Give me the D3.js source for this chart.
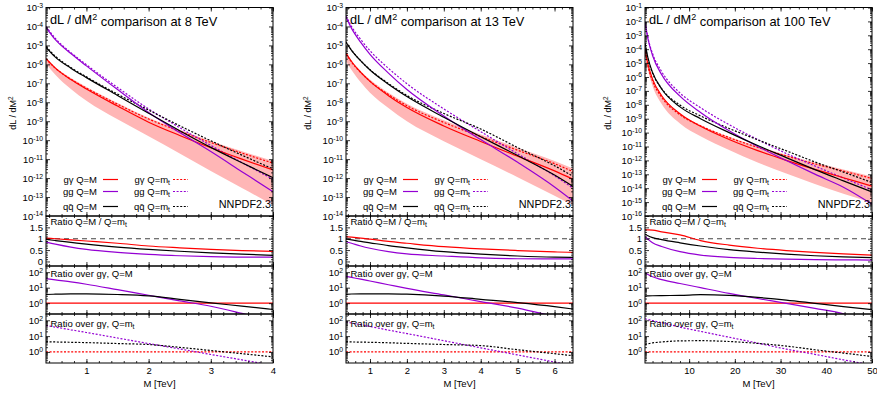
<!DOCTYPE html>
<html>
<head>
<meta charset="utf-8">
<script src="https://cdn.jsdelivr.net/npm/d3@7"></script>
<style>
  body { margin: 0; background: #fff; }
  svg { display: block; font-family: 'Liberation Sans', Arial, sans-serif; }
</style>
</head>
<body>
<svg id="chart" width="877" height="393"></svg>
<script>
// values; main panels are log10(dL/dM^2), "over" panels are log10(ratio)

// ---- 8 TeV ----
const mass8 = [0.35, 0.5, 0.75, 1, 1.5, 2, 2.5, 3, 3.5, 4]
const gaM8 = [-5.7, -6.2, -6.8, -7.3, -8.2, -9.05, -9.75, -10.4, -11.0, -11.57]
const gaMt8 = [-5.71, -6.2, -6.78, -7.25, -8.1, -8.88, -9.53, -10.12, -10.68, -11.21]
const ggM8 = [-4.05, -4.7, -5.43, -6.08, -7.33, -8.54, -9.6, -10.6, -11.66, -12.72]
const ggMt8 = [-4.0, -4.63, -5.38, -6.02, -7.22, -8.35, -9.34, -10.28, -11.18, -12.06]
const qqM8 = [-5.1, -5.62, -6.2, -6.7, -7.64, -8.58, -9.5, -10.38, -11.19, -11.98]
const qqMt8 = [-5.05, -5.57, -6.17, -6.66, -7.57, -8.41, -9.24, -10.03, -10.79, -11.52]
const bandHi8 = [-5.65, -6.14, -6.72, -7.19, -8.04, -8.82, -9.45, -10.04, -10.58, -11.1]
const bandLo8 = [-5.95, -6.55, -7.3, -7.92, -8.9, -9.79, -10.7, -11.62, -12.52, -13.42]
const rqGa8 = [1.03, 1.0, 0.95, 0.9, 0.8, 0.68, 0.6, 0.53, 0.48, 0.44]
const rqGg8 = [0.85, 0.76, 0.63, 0.53, 0.4, 0.31, 0.25, 0.21, 0.19, 0.19]
const rqQq8 = [0.97, 0.92, 0.84, 0.76, 0.63, 0.53, 0.45, 0.38, 0.32, 0.27]
const ovMgg8 = [1.59, 1.5, 1.37, 1.22, 0.87, 0.51, 0.15, -0.2, -0.66, -1.15]
const ovMqq8 = [0.56, 0.58, 0.6, 0.6, 0.56, 0.47, 0.25, 0.02, -0.19, -0.41]
const ovMtgg8 = [1.67, 1.57, 1.4, 1.23, 0.88, 0.53, 0.19, -0.16, -0.5, -0.85]
const ovMtqq8 = [0.64, 0.63, 0.61, 0.59, 0.53, 0.47, 0.29, 0.09, -0.11, -0.31]

// ---- 13 TeV ----
const mass13 = [0.35, 0.5, 0.75, 1, 1.5, 2, 3, 4, 5, 6, 6.5]
const gaM13 = [-5.4, -5.85, -6.42, -6.9, -7.65, -8.28, -9.25, -10.07, -10.85, -11.62, -12.06]
const gaMt13 = [-5.44, -5.88, -6.43, -6.89, -7.59, -8.18, -9.06, -9.81, -10.53, -11.24, -11.66]
const ggM13 = [-3.5, -4.1, -4.84, -5.47, -6.46, -7.33, -8.72, -9.97, -11.17, -12.47, -13.21]
const ggMt13 = [-3.45, -4.0, -4.69, -5.28, -6.21, -7.02, -8.35, -9.55, -10.72, -11.88, -12.53]
const qqM13 = [-4.83, -5.26, -5.82, -6.3, -7.05, -7.7, -8.79, -9.82, -10.81, -11.84, -12.44]
const qqMt13 = [-4.81, -5.25, -5.81, -6.28, -7.01, -7.64, -8.59, -9.41, -10.39, -11.35, -11.9]
const bandHi13 = [-5.35, -5.8, -6.35, -6.8, -7.5, -8.08, -8.95, -9.7, -10.4, -11.1, -11.5]
const bandLo13 = [-5.84, -6.3, -6.95, -7.5, -8.3, -9.0, -10.05, -11.0, -11.95, -12.93, -13.42]
const rqGa13 = [1.09, 1.07, 1.03, 0.98, 0.88, 0.8, 0.65, 0.55, 0.48, 0.42, 0.4]
const rqGg13 = [0.87, 0.8, 0.68, 0.58, 0.43, 0.33, 0.24, 0.16, 0.12, 0.11, 0.11]
const rqQq13 = [0.99, 0.95, 0.88, 0.82, 0.7, 0.6, 0.43, 0.32, 0.24, 0.19, 0.18]
const ovMgg13 = [1.73, 1.66, 1.55, 1.43, 1.19, 0.95, 0.53, 0.1, -0.32, -0.85, -1.1]
const ovMqq13 = [0.57, 0.59, 0.6, 0.6, 0.6, 0.58, 0.46, 0.25, 0.04, -0.22, -0.38]
const ovMtgg13 = [1.9, 1.83, 1.72, 1.61, 1.38, 1.16, 0.71, 0.26, -0.19, -0.64, -0.87]
const ovMtqq13 = [0.63, 0.63, 0.62, 0.61, 0.58, 0.54, 0.47, 0.4, 0.14, -0.11, -0.24]

// ---- 100 TeV ----
const mass100 = [0.35, 1, 2, 4, 8, 12.5, 18.75, 25, 31.25, 37.5, 43.75, 50]
const gaM100 = [-4.0, -5.1, -6.15, -7.35, -8.65, -9.55, -10.5, -11.3, -12.0, -12.65, -13.25, -13.85]
const gaMt100 = [-4.14, -5.24, -6.29, -7.46, -8.72, -9.51, -10.36, -11.06, -11.68, -12.25, -12.77, -13.3]
const ggM100 = [-2.05, -3.25, -4.45, -5.83, -7.38, -8.55, -9.87, -11.0, -12.01, -12.99, -13.93, -15.15]
const ggMt100 = [-2.04, -3.19, -4.31, -5.61, -7.15, -8.21, -9.43, -10.5, -11.5, -12.4, -13.27, -14.12]
const qqM100 = [-3.54, -4.63, -5.67, -6.86, -8.15, -9.0, -10.0, -10.93, -11.8, -12.66, -13.47, -14.27]
const qqMt100 = [-3.66, -4.72, -5.72, -6.83, -8.02, -8.8, -9.7, -10.52, -11.31, -12.11, -12.84, -13.59]
const bandHi100 = [-3.95, -5.05, -6.1, -7.3, -8.6, -9.45, -10.3, -11.0, -11.6, -12.15, -12.65, -13.15]
const bandLo100 = [-4.3, -5.5, -6.65, -7.95, -9.35, -10.27, -11.25, -12.15, -12.95, -13.7, -14.4, -15.05]
const rqGa100 = [1.39, 1.39, 1.38, 1.3, 1.17, 0.92, 0.72, 0.58, 0.48, 0.4, 0.33, 0.28]
const rqGg100 = [1.09, 0.98, 0.82, 0.66, 0.43, 0.28, 0.18, 0.13, 0.1, 0.08, 0.07, 0.06]
const rqQq100 = [1.2, 1.13, 1.05, 0.96, 0.82, 0.68, 0.52, 0.41, 0.32, 0.25, 0.2, 0.17]
const ovMgg100 = [1.95, 1.85, 1.7, 1.52, 1.27, 1.0, 0.63, 0.3, -0.01, -0.34, -0.68, -1.3]
const ovMqq100 = [0.46, 0.47, 0.48, 0.49, 0.5, 0.55, 0.5, 0.37, 0.2, -0.01, -0.22, -0.42]
const ovMtgg100 = [2.1, 2.05, 1.98, 1.85, 1.57, 1.3, 0.93, 0.56, 0.18, -0.15, -0.5, -0.82]
const ovMtqq100 = [0.48, 0.52, 0.57, 0.63, 0.7, 0.71, 0.66, 0.54, 0.37, 0.14, -0.07, -0.29]

// tick labels
const xTicks8 = [1, 2, 3, 4]
const xTicks13 = [1, 2, 3, 4, 5, 6]
const xTicks100 = [10, 20, 30, 40, 50]
const yDecades8 = [-14, -13, -12, -11, -10, -9, -8, -7, -6, -5, -4, -3]
const yDecades13 = [-14, -13, -12, -11, -10, -9, -8, -7, -6, -5, -4, -3]
const yDecades100 = [-16, -15, -14, -13, -12, -11, -10, -9, -8, -7, -6, -5, -4, -3, -2, -1]
const ratioTicks = [0, 0.5, 1, 1.5]
const overTicks = [0, 1, 2]

const red = '#ff0000'
const violet = '#9400d3'
const black = '#000000'
const bandColor = '#ffb6b6'
const fontSize = 9.5

const rowMain = [7.5, 216]
const rowQ = [216, 266]
const rowOverM = [266, 314]
const rowOverMt = [314, 363]

const pow10 = (v) => Math.pow(10, v)

const panels = [
    {
        id: 'p8', energy: '8', left: 46, right: 273, ylabelX: 12.5,
        xDomain: [0.35, 4], xTicks: xTicks8, xMinor: d3.range(0.4, 4.001, 0.2), decades: yDecades8,
        M: mass8, gaM: gaM8, gaMt: gaMt8, ggM: ggM8, ggMt: ggMt8, qqM: qqM8, qqMt: qqMt8,
        bandHi: bandHi8, bandLo: bandLo8, rqGa: rqGa8, rqGg: rqGg8, rqQq: rqQq8,
        ovMgg: ovMgg8, ovMqq: ovMqq8, ovMtgg: ovMtgg8, ovMtqq: ovMtqq8,
    },
    {
        id: 'p13', energy: '13', left: 346, right: 573, ylabelX: 307,
        xDomain: [0.35, 6.5], xTicks: xTicks13, xMinor: d3.range(0.4, 6.501, 0.2), decades: yDecades13,
        M: mass13, gaM: gaM13, gaMt: gaMt13, ggM: ggM13, ggMt: ggMt13, qqM: qqM13, qqMt: qqMt13,
        bandHi: bandHi13, bandLo: bandLo13, rqGa: rqGa13, rqGg: rqGg13, rqQq: rqQq13,
        ovMgg: ovMgg13, ovMqq: ovMqq13, ovMtgg: ovMtgg13, ovMtqq: ovMtqq13,
    },
    {
        id: 'p100', energy: '100', left: 645, right: 872, ylabelX: 607.5,
        xDomain: [0.35, 50], xTicks: xTicks100, xMinor: d3.range(2, 50.001, 2), decades: yDecades100,
        M: mass100, gaM: gaM100, gaMt: gaMt100, ggM: ggM100, ggMt: ggMt100, qqM: qqM100, qqMt: qqMt100,
        bandHi: bandHi100, bandLo: bandLo100, rqGa: rqGa100, rqGg: rqGg100, rqQq: rqQq100,
        ovMgg: ovMgg100, ovMqq: ovMqq100, ovMtgg: ovMtgg100, ovMtqq: ovMtqq100,
    },
]

const svg = d3.select('#chart')
const defs = svg.append('defs')

function styleAxis(sel) {
    sel.attr('font-size', null).attr('font-family', null)
    sel.selectAll('.domain').remove()
    sel.selectAll('.tick line').attr('stroke', black).attr('stroke-width', 0.8)
    sel.selectAll('.tick text').attr('fill', black).style('font-size', `${fontSize}px`)
}

// minor ticks: no text at all
function minorAxis(parent, axis) {
    const m = parent.append('g').call(axis.tickFormat(() => ''))
    m.selectAll('text').remove()
    m.selectAll('.domain').remove()
    m.selectAll('.tick line').attr('stroke', black).attr('stroke-width', 0.8)
    return m
}

function powerLabels(sel) {
    sel.selectAll('.tick text').each(function (d) {
        const t = d3.select(this)
        t.text('10')
        t.append('tspan').attr('dy', '-0.45em').style('font-size', '6.8px').text(Math.round(Math.log10(d)))
    })
}

function logMinor(lo, hi) {
    const out = []
    for (let n = Math.floor(Math.log10(lo)); n <= Math.ceil(Math.log10(hi)); n++) {
        for (let k = 2; k <= 9; k++) {
            const v = k * Math.pow(10, n)
            if (v > lo && v < hi) out.push(v)
        }
    }
    return out
}

function xAxes(g, x, p, row, withLabels) {
    const bottom = g.append('g').attr('transform', `translate(0,${row[1]})`)
    bottom.call(d3.axisBottom(x).tickValues(p.xTicks).tickSize(-4).tickPadding(4)
        .tickFormat(withLabels ? d3.format('d') : () => ''))
    styleAxis(bottom)
    if (!withLabels) bottom.selectAll('text').remove()
    minorAxis(bottom, d3.axisBottom(x).tickValues(p.xMinor).tickSize(-2))
    const top = g.append('g').attr('transform', `translate(0,${row[0]})`)
    top.call(d3.axisTop(x).tickValues(p.xTicks).tickSize(-4).tickFormat(() => ''))
    styleAxis(top)
    top.selectAll('text').remove()
    minorAxis(top, d3.axisTop(x).tickValues(p.xMinor).tickSize(-2))
}

function yAxes(g, y, p, major, minor, fmt, powers) {
    const left = g.append('g').attr('transform', `translate(${p.left},0)`)
    left.call(d3.axisLeft(y).tickValues(major).tickSize(-4).tickPadding(3).tickFormat(fmt || (() => '')))
    styleAxis(left)
    if (powers) powerLabels(left)
    minorAxis(left, d3.axisLeft(y).tickValues(minor).tickSize(-2))
    const right = g.append('g').attr('transform', `translate(${p.right},0)`)
    right.call(d3.axisRight(y).tickValues(major).tickSize(-4).tickFormat(() => ''))
    styleAxis(right)
    right.selectAll('text').remove()
    minorAxis(right, d3.axisRight(y).tickValues(minor).tickSize(-2))
}

function clipFor(p, key, row) {
    const id = `clip-${p.id}-${key}`
    defs.append('clipPath').attr('id', id).append('rect')
        .attr('x', p.left).attr('y', row[0]).attr('width', p.right - p.left).attr('height', row[1] - row[0])
    return `url(#${id})`
}

function curve(plot, x, y, M, vals, color, dotted, asLog) {
    const pts = M.map((m, i) => [m, asLog ? pow10(vals[i]) : vals[i]])
    plot.append('path')
        .datum(pts)
        .attr('fill', 'none')
        .attr('stroke', color)
        .attr('stroke-width', 1.2)
        .attr('stroke-dasharray', dotted ? '2,1.6' : null)
        .attr('d', d3.line().x((d) => x(d[0])).y((d) => y(d[1])).curve(d3.curveMonotoneX))
}

function frame(g, p, row) {
    g.append('rect')
        .attr('x', p.left).attr('y', row[0])
        .attr('width', p.right - p.left).attr('height', row[1] - row[0])
        .attr('fill', 'none').attr('stroke', black).attr('stroke-width', 1)
}

function subLabel(text, sub) {
    return (sel) => {
        sel.text(text)
        if (sub) sel.append('tspan').attr('dy', '0.3em').style('font-size', '6.8px').text(sub)
    }
}

const legendItems = [
    { name: 'g\u03b3 Q=M', color: red, dotted: false, col: 0, row: 0 },
    { name: 'gg Q=M', color: violet, dotted: false, col: 0, row: 1 },
    { name: 'q\u0071\u0304 Q=M', color: black, dotted: false, col: 0, row: 2 },
    { name: 'g\u03b3 Q=m', sub: 't', color: red, dotted: true, col: 1, row: 0 },
    { name: 'gg Q=m', sub: 't', color: violet, dotted: true, col: 1, row: 1 },
    { name: 'q\u0071\u0304 Q=m', sub: 't', color: black, dotted: true, col: 1, row: 2 },
]
const legendRowY = [179.5, 191.5, 206.5]

panels.forEach((p) => {
    const x = d3.scaleLinear().domain(p.xDomain).range([p.left, p.right])
    const g = svg.append('g').attr('class', `panel ${p.id}`)

    // ---- main luminosity panel ----
    const dec = p.decades
    const yMain = d3.scaleLog().domain([pow10(dec[0]), pow10(dec[dec.length - 1])]).range([rowMain[1], rowMain[0]])
    const main = g.append('g').attr('clip-path', clipFor(p, 'main', rowMain))
    main.append('path')
        .datum(p.M.map((m, i) => ({ m, lo: pow10(p.bandLo[i]), hi: pow10(p.bandHi[i]) })))
        .attr('fill', bandColor)
        .attr('d', d3.area().x((d) => x(d.m)).y0((d) => yMain(d.lo)).y1((d) => yMain(d.hi)).curve(d3.curveMonotoneX))
    curve(main, x, yMain, p.M, p.gaMt, red, true, true)
    curve(main, x, yMain, p.M, p.ggMt, violet, true, true)
    curve(main, x, yMain, p.M, p.qqMt, black, true, true)
    curve(main, x, yMain, p.M, p.gaM, red, false, true)
    curve(main, x, yMain, p.M, p.ggM, violet, false, true)
    curve(main, x, yMain, p.M, p.qqM, black, false, true)

    xAxes(g, x, p, rowMain, false)
    yAxes(g, yMain, p, dec.map(pow10), logMinor(pow10(dec[0]), pow10(dec[dec.length - 1])), null, true)
    frame(g, p, rowMain)

    g.append('text')
        .attr('x', p.left + 4).attr('y', 24)
        .style('font-size', '12.8px')
        .call((t) => {
            t.append('tspan').text('dL / dM')
            t.append('tspan').attr('dy', '-0.45em').style('font-size', '9px').text('2')
            t.append('tspan').attr('dy', '0.45em').text(` comparison at ${p.energy} TeV`)
        })

    g.append('text')
        .attr('transform', `translate(${p.ylabelX + 3.5},113) rotate(-90)`)
        .attr('text-anchor', 'middle')
        .style('font-size', '9px')
        .call((t) => {
            t.append('tspan').text('dL / dM')
            t.append('tspan').attr('dy', '-0.45em').style('font-size', '6.5px').text('2')
        })

    // legend
    const legend = g.append('g').attr('transform', `translate(${p.left},0)`)
    legendItems.forEach((item) => {
        const ty = legendRowY[item.row]
        const textEnd = item.col === 0 ? 51 : 124
        const x0 = item.col === 0 ? 57 : 127
        legend.append('text')
            .attr('x', textEnd).attr('y', ty + 3.5)
            .attr('text-anchor', 'end')
            .style('font-size', `${fontSize}px`)
            .call(subLabel(item.name, item.sub))
        legend.append('line')
            .attr('x1', x0).attr('x2', x0 + 15).attr('y1', ty).attr('y2', ty)
            .attr('stroke', item.color).attr('stroke-width', 1.2)
            .attr('stroke-dasharray', item.dotted ? '2,1.6' : null)
    })
    g.append('text')
        .attr('x', p.right - 2).attr('y', 207.5)
        .attr('text-anchor', 'end')
        .style('font-size', '10.8px')
        .text('NNPDF2.3')

    // ---- ratio Q=M / Q=mt ----
    const yQ = d3.scaleLinear().domain([-0.2, 2]).range([rowQ[1], rowQ[0]])
    const q = g.append('g').attr('clip-path', clipFor(p, 'q', rowQ))
    q.append('line')
        .attr('x1', x(p.xDomain[0])).attr('x2', x(p.xDomain[1]))
        .attr('y1', yQ(1)).attr('y2', yQ(1))
        .attr('stroke', '#444').attr('stroke-width', 1.1).attr('stroke-dasharray', '5,4')
    curve(q, x, yQ, p.M, p.rqGa, red, false, false)
    curve(q, x, yQ, p.M, p.rqGg, violet, false, false)
    curve(q, x, yQ, p.M, p.rqQq, black, false, false)
    xAxes(g, x, p, rowQ, false)
    yAxes(g, yQ, p, ratioTicks, d3.range(-0.1, 2.0, 0.1).filter((v) => Math.abs(v * 2 - Math.round(v * 2)) > 0.01),
        (d) => String(d))
    frame(g, p, rowQ)
    g.append('text')
        .attr('x', p.left + 4.5).attr('y', 225)
        .style('font-size', `${fontSize}px`)
        .call(subLabel('Ratio Q=M / Q=m', 't'))

    // ---- ratio over g-gamma, Q=M ----
    const overDomain = [0.2, 250]
    const yOM = d3.scaleLog().domain(overDomain).range([rowOverM[1], rowOverM[0]])
    const om = g.append('g').attr('clip-path', clipFor(p, 'om', rowOverM))
    om.append('line')
        .attr('x1', x(p.xDomain[0])).attr('x2', x(p.xDomain[1]))
        .attr('y1', yOM(1)).attr('y2', yOM(1))
        .attr('stroke', red).attr('stroke-width', 1.2)
    curve(om, x, yOM, p.M, p.ovMgg, violet, false, true)
    curve(om, x, yOM, p.M, p.ovMqq, black, false, true)
    xAxes(g, x, p, rowOverM, false)
    yAxes(g, yOM, p, overTicks.map(pow10), logMinor(overDomain[0], overDomain[1]), null, true)
    frame(g, p, rowOverM)
    g.append('text')
        .attr('x', p.left + 4.5).attr('y', 277)
        .style('font-size', `${fontSize}px`)
        .text('Ratio over g\u03b3, Q=M')

    // ---- ratio over g-gamma, Q=mt ----
    const yOT = d3.scaleLog().domain(overDomain).range([rowOverMt[1], rowOverMt[0]])
    const ot = g.append('g').attr('clip-path', clipFor(p, 'ot', rowOverMt))
    ot.append('line')
        .attr('x1', x(p.xDomain[0])).attr('x2', x(p.xDomain[1]))
        .attr('y1', yOT(1)).attr('y2', yOT(1))
        .attr('stroke', red).attr('stroke-width', 1.2).attr('stroke-dasharray', '2,1.6')
    curve(ot, x, yOT, p.M, p.ovMtgg, violet, true, true)
    curve(ot, x, yOT, p.M, p.ovMtqq, black, true, true)
    xAxes(g, x, p, rowOverMt, true)
    yAxes(g, yOT, p, overTicks.map(pow10), logMinor(overDomain[0], overDomain[1]), null, true)
    frame(g, p, rowOverMt)
    g.append('text')
        .attr('x', p.left + 4.5).attr('y', 327)
        .style('font-size', `${fontSize}px`)
        .call(subLabel('Ratio over g\u03b3, Q=m', 't'))

    g.append('text')
        .attr('x', (p.left + p.right) / 2).attr('y', 387)
        .attr('text-anchor', 'middle')
        .style('font-size', `${fontSize}px`)
        .text('M [TeV]')
})
</script>
</body>
</html>
